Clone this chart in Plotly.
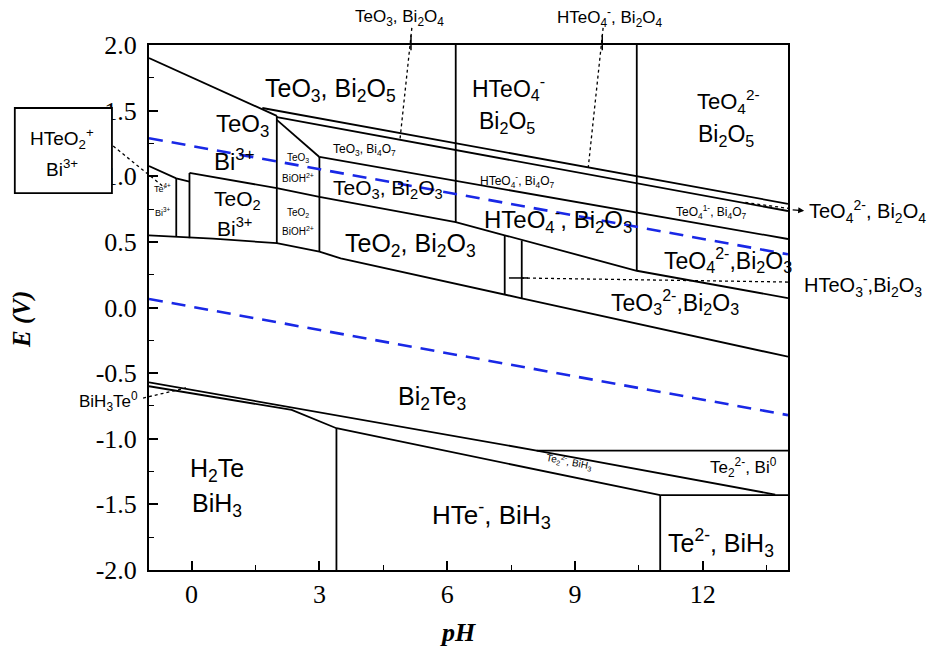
import plotly.graph_objects as go

# ---------------------------------------------------------------
# Potential-pH (Pourbaix) diagram of the Bi-Te-H2O system
# ---------------------------------------------------------------

# Axis extents and tick labels
ph_range = [-1, 14]
e_range = [-2, 2]
x_tick_vals = [0, 3, 6, 9, 12]
x_tick_text = ["0", "3", "6", "9", "12"]
y_tick_vals = [2.0, 1.5, 1.0, 0.5, 0.0, -0.5, -1.0, -1.5, -2.0]
y_tick_text = ["2.0", "1.5", "1.0", "0.5", "0.0", "-0.5", "-1.0", "-1.5", "-2.0"]

# Phase boundaries (pH, E / V)
top_left_ph = [-1.0, 2.0]
top_left_e = [1.90, 1.46]

bi2o5_bi2o4_ph = [1.66, 14.0]
bi2o5_bi2o4_e = [1.52, 0.79]

bi2o4_bi4o7_ph = [2.0, 14.0]
bi2o4_bi4o7_e = [1.45, 0.735]

bioh_top_ph = [2.0, 3.0]
bioh_top_e = [1.43, 1.147]

bi4o7_bi2o3_ph = [3.0, 14.0]
bi4o7_bi2o3_e = [1.147, 0.522]

te6_te4_ph = [-0.05, 2.0, 3.0, 6.2, 7.35, 10.45, 14.0]
te6_te4_e = [1.025, 0.91, 0.842, 0.651, 0.55, 0.28, 0.072]

te4_cation_top_ph = [-1.0, -0.36, -0.05]
te4_cation_top_e = [1.078, 0.984, 0.959]

oxide_lower_ph = [-1.0, 0.5, 2.0, 3.0, 3.5, 7.35, 7.75, 14.0]
oxide_lower_e = [0.55, 0.525, 0.49, 0.425, 0.375, 0.095, 0.07, -0.375]

bi2te3_lower_ph = [-1.0, 8.1, 13.7]
bi2te3_lower_e = [-0.57, -1.09, -1.425]

bih3_upper_ph = [-1.0, 2.35, 3.4, 11.0]
bih3_upper_e = [-0.60, -0.78, -0.92, -1.43]

te2_bi0_top_ph = [8.1, 14.0]
te2_bi0_top_e = [-1.09, -1.09]

te2_bih3_top_ph = [11.0, 14.0]
te2_bih3_top_e = [-1.43, -1.43]

# Vertical boundaries: pH, E_top, E_bottom
vert_ph = [6.2, 10.45, 2.0, 3.0, 7.35, 7.75, -0.36, -0.05, 3.4, 11.0]
vert_e_top = [2.0, 2.0, 1.46, 1.147, 0.55, 0.51, 0.984, 1.025, -0.92, -1.43]
vert_e_bot = [0.651, 0.28, 0.49, 0.425, 0.095, 0.07, 0.537, 0.528, -2.0, -2.0]

# Water stability limits (O2/H2O and H2O/H2)
o2_ph = [-1.0, 14.0]
o2_e = [1.29, 0.405]
h2_ph = [-1.0, 14.0]
h2_e = [0.065, -0.82]

# Region labels: text, pH, E, font size
region_labels = [
    ("TeO<sub>3</sub>, Bi<sub>2</sub>O<sub>5</sub>", 3.25, 1.66, 25),
    ("HTeO<sub>4</sub><sup>-</sup>", 7.45, 1.67, 23),
    ("Bi<sub>2</sub>O<sub>5</sub>", 7.4, 1.41, 23),
    ("TeO<sub>4</sub><sup>2-</sup>", 12.6, 1.57, 22),
    ("Bi<sub>2</sub>O<sub>5</sub>", 12.55, 1.31, 23),
    ("TeO<sub>3</sub>", 1.2, 1.39, 24),
    ("Bi<sup>3+</sup>", 1.0, 1.125, 24),
    ("TeO<sub>2</sub>", 1.08, 0.82, 21),
    ("Bi<sup>3+</sup>", 1.0, 0.61, 21),
    ("Te<sup>4+</sup>", -0.68, 0.91, 9),
    ("Bi<sup>3+</sup>", -0.68, 0.73, 9),
    ("TeO<sub>3</sub>", 2.5, 1.14, 10),
    ("BiOH<sup>2+</sup>", 2.5, 0.99, 10),
    ("TeO<sub>2</sub>", 2.5, 0.72, 10),
    ("BiOH<sup>2+</sup>", 2.5, 0.585, 10),
    ("TeO<sub>3</sub>, Bi<sub>4</sub>O<sub>7</sub>", 4.05, 1.20, 12),
    ("TeO<sub>3</sub>, Bi<sub>2</sub>O<sub>3</sub>", 4.6, 0.905, 21),
    ("HTeO<sub>4</sub><sup>-</sup>, Bi<sub>4</sub>O<sub>7</sub>", 7.65, 0.965, 12),
    ("HTeO<sub>4</sub><sup>-</sup>, Bi<sub>2</sub>O<sub>3</sub>", 8.6, 0.665, 24),
    ("TeO<sub>4</sub><sup>1-</sup>, Bi<sub>4</sub>O<sub>7</sub>", 12.2, 0.728, 12),
    ("TeO<sub>4</sub><sup>2-</sup>,Bi<sub>2</sub>O<sub>3</sub>", 12.6, 0.36, 23),
    ("TeO<sub>2</sub>, Bi<sub>2</sub>O<sub>3</sub>", 5.15, 0.475, 25),
    ("TeO<sub>3</sub><sup>2-</sup>,Bi<sub>2</sub>O<sub>3</sub>", 11.35, 0.04, 23),
    ("Bi<sub>2</sub>Te<sub>3</sub>", 5.65, -0.69, 25),
    ("Te<sub>2</sub><sup>2-</sup>, Bi<sup>0</sup>", 12.95, -1.22, 17),
    ("H<sub>2</sub>Te", 0.6, -1.24, 25),
    ("BiH<sub>3</sub>", 0.6, -1.505, 25),
    ("HTe<sup>-</sup>, BiH<sub>3</sub>", 7.05, -1.58, 26),
    ("Te<sup>2-</sup>, BiH<sub>3</sub>", 12.42, -1.795, 25),
]

LABEL_FONT = "Liberation Sans, Arial, sans-serif"
AXIS_FONT = "Times New Roman, Liberation Serif, Times, serif"


def paper(ph, e):
    """Convert (pH, E) to paper fractions for items drawn outside the axes."""
    return ((ph - ph_range[0]) / (ph_range[1] - ph_range[0]),
            (e - e_range[0]) / (e_range[1] - e_range[0]))


fig = go.Figure()

line_style = dict(color="black", width=1.8)
boundaries = [
    (top_left_ph, top_left_e),
    (bi2o5_bi2o4_ph, bi2o5_bi2o4_e),
    (bi2o4_bi4o7_ph, bi2o4_bi4o7_e),
    (bioh_top_ph, bioh_top_e),
    (bi4o7_bi2o3_ph, bi4o7_bi2o3_e),
    (te6_te4_ph, te6_te4_e),
    (te4_cation_top_ph, te4_cation_top_e),
    (oxide_lower_ph, oxide_lower_e),
    (bi2te3_lower_ph, bi2te3_lower_e),
    (bih3_upper_ph, bih3_upper_e),
    (te2_bi0_top_ph, te2_bi0_top_e),
    (te2_bih3_top_ph, te2_bih3_top_e),
]
for xs, ys in boundaries:
    fig.add_trace(go.Scatter(x=xs, y=ys, mode="lines", line=line_style,
                             hoverinfo="skip", showlegend=False))

for ph, et, eb in zip(vert_ph, vert_e_top, vert_e_bot):
    fig.add_trace(go.Scatter(x=[ph, ph], y=[et, eb], mode="lines",
                             line=line_style, hoverinfo="skip", showlegend=False))

# Water stability window
for xs, ys in [(o2_ph, o2_e), (h2_ph, h2_e)]:
    fig.add_trace(go.Scatter(x=xs, y=ys, mode="lines",
                             line=dict(color="rgb(25,40,230)", width=2.6, dash="14px,9px"),
                             hoverinfo="skip", showlegend=False))

annotations = []
for text, ph, e, size in region_labels:
    annotations.append(dict(x=ph, y=e, xref="x", yref="y", text=text,
                            showarrow=False, xanchor="center", yanchor="middle",
                            font=dict(family=LABEL_FONT, size=size, color="black")))

# Tiny label along the Te2(2-), BiH3 band
annotations.append(dict(x=8.85, y=-1.175, xref="x", yref="y",
                        text="Te<sub>2</sub><sup>2-</sup>, BiH<sub>3</sub>",
                        showarrow=False, textangle=11, xanchor="center", yanchor="middle",
                        font=dict(family=LABEL_FONT, size=10, color="black")))

# Labels placed outside the axes (paper coordinates)
outside_labels = [
    ("TeO<sub>3</sub>, Bi<sub>2</sub>O<sub>4</sub>", 4.89, 2.206, "center", 17),
    ("HTeO<sub>4</sub><sup>-</sup>, Bi<sub>2</sub>O<sub>4</sub>", 9.82, 2.206, "center", 17),
    ("TeO<sub>4</sub><sup>2-</sup>, Bi<sub>2</sub>O<sub>4</sub>", 14.45, 0.728, "left", 20),
    ("HTeO<sub>3</sub><sup>-</sup>,Bi<sub>2</sub>O<sub>3</sub>", 14.34, 0.17, "left", 20),
    ("BiH<sub>3</sub>Te<sup>0</sup>", -1.2, -0.72, "right", 17),
]
for text, ph, e, anchor, size in outside_labels:
    px_, py_ = paper(ph, e)
    annotations.append(dict(x=px_, y=py_, xref="paper", yref="paper", text=text,
                            showarrow=False, xanchor=anchor, yanchor="middle",
                            font=dict(family=LABEL_FONT, size=size, color="black")))

# Boxed HTeO2+ / Bi3+ label on the left
for text, e in [("HTeO<sub>2</sub><sup>+</sup>", 1.29), ("Bi<sup>3+</sup>", 1.06)]:
    px_, py_ = paper(-3.04, e)
    annotations.append(dict(x=px_, y=py_, xref="paper", yref="paper", text=text,
                            showarrow=False, xanchor="center", yanchor="middle",
                            font=dict(family=LABEL_FONT, size=19, color="black")))

# Arrow head toward the TeO4(2-), Bi2O4 label
ax1, ay1 = paper(14.38, 0.737)
annotations.append(dict(x=ax1, y=ay1, xref="paper", yref="paper",
                        ax=-13, ay=-1, text="",
                        showarrow=True, arrowhead=2, arrowsize=1, arrowwidth=1.2,
                        arrowcolor="black"))

# Axis titles
tx, ty = paper(-3.98, -0.095)
annotations.append(dict(x=tx, y=ty, xref="paper", yref="paper",
                        text="<b><i>E (V)</i></b>", textangle=-90, showarrow=False,
                        xanchor="center", yanchor="middle",
                        font=dict(family=AXIS_FONT, size=25, color="black")))
tx, ty = paper(6.25, -2.475)
annotations.append(dict(x=tx, y=ty, xref="paper", yref="paper",
                        text="<b><i>pH</i></b>", showarrow=False,
                        xanchor="center", yanchor="middle",
                        font=dict(family=AXIS_FONT, size=26, color="black")))

shapes = []


def seg(p0, p1, dash="dot", width=1.3, layer="above"):
    x0, y0 = paper(*p0)
    x1, y1 = paper(*p1)
    shapes.append(dict(type="line", xref="paper", yref="paper",
                       x0=x0, y0=y0, x1=x1, y1=y1, layer=layer,
                       line=dict(color="black", width=width, dash=dash)))


# Leader lines to the small stability fields
seg((5.17, 2.13), (4.89, 1.276))
seg((5.15, 2.075), (5.15, 1.96), dash="solid", width=1.5)
seg((9.66, 2.13), (9.31, 1.063))
seg((9.64, 2.075), (9.64, 1.96), dash="solid", width=1.5)
seg((13.0, 0.80), (14.08, 0.752))
seg((14.0, 0.194), (7.7, 0.225))
seg((7.45, 0.225), (7.9, 0.225), dash="solid", width=1.5)
seg((-1.14, -0.69), (-0.13, -0.613))
seg((-1.84, 1.23), (-0.62, 0.91))

# Box around the HTeO2+ / Bi3+ label (white fill hides part of the tick labels)
bx0, by0 = paper(-4.15, 0.872)
bx1, by1 = paper(-1.87, 1.52)
shapes.append(dict(type="rect", xref="paper", yref="paper",
                   x0=bx0, y0=by0, x1=bx1, y1=by1, layer="above",
                   fillcolor="white", line=dict(color="black", width=1.8)))

axis_tick_font = dict(family=AXIS_FONT, size=26, color="black")

fig.update_layout(
    width=942, height=656,
    margin=dict(l=149, r=154, t=45, b=86),
    paper_bgcolor="white", plot_bgcolor="white",
    font=dict(family=AXIS_FONT, size=20, color="black"),
    showlegend=False,
    annotations=annotations,
    shapes=shapes,
    xaxis=dict(range=ph_range, tickvals=x_tick_vals, ticktext=x_tick_text,
               ticks="inside", ticklen=9, tickwidth=1.5, tickcolor="black",
               minor=dict(dtick=1.5, tick0=0, ticks="inside", ticklen=5,
                          tickwidth=1.2, tickcolor="black"),
               showline=True, linecolor="black", linewidth=2, mirror=True,
               showgrid=False, zeroline=False, ticklabelstandoff=0,
               tickfont=axis_tick_font),
    yaxis=dict(range=e_range, tickvals=y_tick_vals, ticktext=y_tick_text,
               ticks="inside", ticklen=9, tickwidth=1.5, tickcolor="black",
               minor=dict(dtick=0.25, tick0=0, ticks="inside", ticklen=5,
                          tickwidth=1.2, tickcolor="black"),
               showline=True, linecolor="black", linewidth=2, mirror=True,
               showgrid=False, zeroline=False, ticklabelstandoff=5,
               tickfont=axis_tick_font),
)

fig.write_html("out.html")
